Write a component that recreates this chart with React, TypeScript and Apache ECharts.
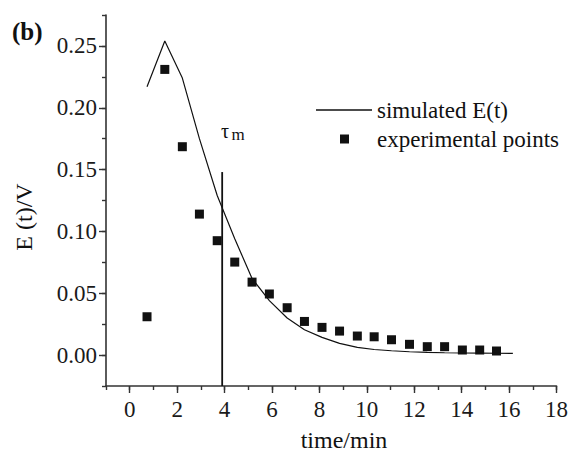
import React, { useEffect, useRef } from "react";
import * as echarts from "echarts";

// Experimental residence-time points
const expTime = [0.73, 1.48, 2.22, 2.94, 3.69, 4.43, 5.16, 5.89, 6.64, 7.37, 8.11, 8.85, 9.6, 10.31, 11.04, 11.8, 12.55, 13.28, 14.03, 14.76, 15.47];
const expE = [0.031, 0.231, 0.1685, 0.114, 0.0925, 0.0752, 0.059, 0.0494, 0.0383, 0.0272, 0.0224, 0.0194, 0.0154, 0.0148, 0.0124, 0.0087, 0.0068, 0.0068, 0.0041, 0.0041, 0.0033];

// Simulated E(t) curve
const simTime = [0.73, 1.48, 2.22, 2.94, 3.69, 4.43, 5.16, 5.89, 6.64, 7.37, 8.11, 8.85, 9.6, 10.31, 11.04, 11.8, 12.55, 13.28, 14.03, 14.76, 15.47, 16.16];
const simE = [0.217, 0.254, 0.224, 0.175, 0.129, 0.094, 0.062, 0.044, 0.03, 0.0205, 0.0143, 0.0095, 0.0062, 0.0045, 0.0035, 0.0027, 0.0022, 0.0019, 0.0017, 0.0016, 0.0015, 0.0014];

// Mean residence time marker
const tauM = 3.9;
const tauMarkerTop = 0.148;

// Axis ranges and labelled ticks
const xRange = [-1, 18];
const yRange = [-0.025, 0.275];
const xMajorTicks = [0, 2, 4, 6, 8, 10, 12, 14, 16, 18];
const yMajorTicks = [0, 0.05, 0.1, 0.15, 0.2, 0.25];

const FONT = "Liberation Serif";
const AXIS_COLOR = "#333";
const INK = "#111";

export default function App() {
  const ref = useRef<HTMLDivElement>(null);

  useEffect(() => {
    const chart = echarts.init(ref.current!, null, { renderer: "svg" });
    const axisLine = { show: true, onZero: false, lineStyle: { color: AXIS_COLOR, width: 1.6 } };
    const tickStyle = { color: AXIS_COLOR, width: 1.4 };
    const labelStyle = { fontFamily: FONT, fontSize: 23, color: "#1a1a1a" };

    chart.setOption({
      animation: false,
      backgroundColor: "#fff",
      textStyle: { fontFamily: FONT },
      grid: { left: 106, right: 14, top: 15, bottom: 67, containLabel: false },
      xAxis: [
        {
          type: "value",
          min: xRange[0],
          max: xRange[1],
          interval: 1,
          position: "bottom",
          axisLine,
          axisTick: { show: true, inside: false, length: 4, lineStyle: tickStyle },
          axisLabel: { show: false },
          splitLine: { show: false },
        },
        {
          type: "value",
          min: xRange[0],
          max: xRange[1],
          position: "bottom",
          axisLine: { show: false, onZero: false },
          axisTick: { show: true, inside: false, length: 7, customValues: xMajorTicks, lineStyle: tickStyle },
          axisLabel: { ...labelStyle, margin: 12, customValues: xMajorTicks },
          splitLine: { show: false },
        },
      ],
      yAxis: [
        {
          type: "value",
          min: yRange[0],
          max: yRange[1],
          interval: 0.025,
          position: "left",
          axisLine,
          axisTick: { show: true, inside: false, length: 4, lineStyle: tickStyle },
          axisLabel: { show: false },
          splitLine: { show: false },
        },
        {
          type: "value",
          min: yRange[0],
          max: yRange[1],
          position: "left",
          axisLine: { show: false, onZero: false },
          axisTick: { show: true, inside: false, length: 7, customValues: yMajorTicks, lineStyle: tickStyle },
          axisLabel: {
            ...labelStyle,
            margin: 9,
            customValues: yMajorTicks,
            formatter: (v: number) => v.toFixed(2),
          },
          splitLine: { show: false },
        },
      ],
      legend: [
        {
          data: [{ name: "simulated E(t)", icon: "rect", itemStyle: { color: INK } }],
          left: 316,
          top: 98,
          padding: 0,
          itemWidth: 56,
          itemHeight: 1.3,
          selectedMode: false,
          textStyle: { ...labelStyle, color: INK, lineHeight: 24 },
        },
        {
          data: [{ name: "experimental points", icon: "rect", itemStyle: { color: INK } }],
          left: 340,
          top: 127,
          padding: 0,
          itemWidth: 9,
          itemHeight: 9,
          selectedMode: false,
          textStyle: { ...labelStyle, color: INK, lineHeight: 24, padding: [0, 0, 0, 23] },
        },
      ],
      series: [
        {
          name: "simulated E(t)",
          type: "line",
          data: simTime.map((t, i) => [t, simE[i]]),
          symbol: "none",
          lineStyle: { color: INK, width: 1.2 },
          itemStyle: { color: INK },
          silent: true,
        },
        {
          name: "experimental points",
          type: "scatter",
          data: expTime.map((t, i) => [t, expE[i]]),
          symbol: "rect",
          symbolSize: 9,
          itemStyle: { color: INK, opacity: 1 },
          silent: true,
        },
        {
          name: "tau_m",
          type: "line",
          data: [
            [tauM, yRange[0]],
            [tauM, tauMarkerTop],
          ],
          symbol: "none",
          lineStyle: { color: INK, width: 1.8 },
          silent: true,
        },
      ],
      graphic: [
        {
          type: "text",
          style: { x: 12, y: 31, text: "(b)", fontFamily: FONT, fontWeight: "bold", fontSize: 25, fill: INK, textVerticalAlign: "middle" },
        },
        {
          type: "text",
          style: { x: 221, y: 131, text: "τ", fontFamily: FONT, fontSize: 20, fill: INK, textVerticalAlign: "middle" },
        },
        {
          type: "text",
          style: { x: 231.5, y: 134.5, text: "m", fontFamily: FONT, fontSize: 17, fill: INK, textVerticalAlign: "middle" },
        },
        {
          type: "text",
          x: 24,
          y: 217,
          rotation: Math.PI / 2,
          style: { x: 0, y: 0, text: "E (t)/V", fontFamily: FONT, fontSize: 24, fill: INK, textAlign: "center", textVerticalAlign: "middle" },
        },
        {
          type: "text",
          style: { x: 344, y: 440, text: "time/min", fontFamily: FONT, fontSize: 24, fill: INK, textAlign: "center", textVerticalAlign: "middle" },
        },
      ],
    });

    return () => chart.dispose();
  }, []);

  return <div ref={ref} style={{ position: "fixed", left: 0, top: 0, width: 571, height: 453 }} />;
}
